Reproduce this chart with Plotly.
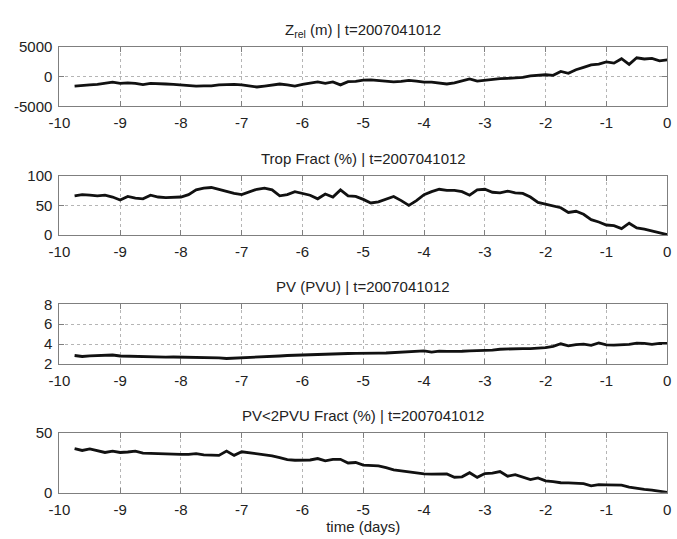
import plotly.graph_objects as go

# time axis (days), 3-hourly
time_days = [-9.75 + 0.125 * k for k in range(79)]

z_rel = [-1600, -1550, -1400, -1300, -1150, -950, -1150, -1050, -1150, -1350,
         -1150, -1250, -1250, -1300, -1400, -1500, -1600, -1550, -1550, -1400,
         -1350, -1300, -1400, -1550, -1750, -1600, -1450, -1250, -1400, -1600,
         -1300, -1050, -900, -1150, -900, -1400, -850, -800, -600, -550,
         -700, -750, -900, -800, -650, -750, -950, -950, -1050, -1250,
         -1050, -750, -400, -750, -600, -450, -350, -300, -250, -150,
         100, 150, 300, 200, 850, 550, 1150, 1550, 1950, 2100,
         2450, 2250, 3000, 2050, 3150, 2950, 3050, 2650, 2800]

trop_fract = [66, 68, 67, 66, 67, 64, 59, 65, 62, 61,
              67, 64, 63, 63, 64, 68, 76, 79, 80, 77,
              73, 70, 68, 72, 77, 79, 76, 66, 68, 73,
              70, 67, 61, 69, 64, 76, 66, 65, 60, 54,
              56, 60, 65, 58, 50, 58, 68, 73, 77, 75,
              75, 73, 67, 76, 77, 72, 71, 74, 71, 70,
              64, 55, 52, 48, 46, 38, 40, 35, 26, 22,
              17, 16, 11, 20, 12, 10, 7, 5, 1]

pv = [2.85, 2.75, 2.82, 2.86, 2.88, 2.90, 2.80, 2.78, 2.72, 2.70,
      2.72, 2.70, 2.68, 2.70, 2.68, 2.66, 2.68, 2.64, 2.67, 2.62,
      2.55, 2.58, 2.60, 2.62, 2.66, 2.70, 2.74, 2.80, 2.85, 2.88,
      2.90, 2.92, 2.96, 3.00, 3.06, 3.08, 3.05, 3.07, 3.05, 3.08,
      3.08, 3.10, 3.14, 3.16, 3.20, 3.25, 3.32, 3.20, 3.28, 3.26,
      3.25, 3.28, 3.31, 3.33, 3.36, 3.40, 3.48, 3.52, 3.54, 3.55,
      3.54, 3.58, 3.64, 3.78, 4.03, 3.82, 3.95, 4.00, 3.88, 4.12,
      3.92, 3.90, 3.92, 3.98, 4.10, 4.08, 3.98, 4.08, 4.06]

pv2_fract = [37, 35.5, 36.8, 35.5, 33.8, 35, 33.8, 34.2, 35, 33.3,
             33, 33, 32.8, 32.5, 32.2, 32.2, 32.8, 31.8, 31.4, 31.4,
             35, 31.4, 34.4, 33.6, 32.8, 31.8, 31, 29.5, 27.8, 27.3,
             27.3, 27.5, 28.7, 26.8, 28.1, 28.1, 25, 25.4, 23.2, 23,
             22.5, 21, 19.2, 18.3, 17.3, 16.4, 15.8, 15.6, 15.7, 15.8,
             13, 13.4, 16.8, 12.9, 16.1, 16.4, 17.8, 13.9, 15.2, 13.1,
             11, 12.5, 10, 9.4, 8.4, 8.2, 8.2, 7.6, 5.8, 6.8,
             6.6, 6.4, 6.4, 4.8, 3.6, 2.9, 2.2, 1.5, 0.2]

titles = ["Z<sub>rel</sub> (m) | t=2007041012",
          "Trop Fract (%) | t=2007041012",
          "PV (PVU) | t=2007041012",
          "PV<2PVU Fract (%) | t=2007041012"]
series = [z_rel, trop_fract, pv, pv2_fract]
y_ranges = [[-5000, 5000], [0, 100], [2, 8], [0, 50]]
y_ticks = [[-5000, 0, 5000], [0, 50, 100], [2, 4, 6, 8], [0, 50]]
x_ticks = list(range(-10, 1))

W, H = 677, 539
x_dom = [49.5 / W, 671 / W]
tops_px = [39, 172, 305, 438]
heights_px = 61.5

fig = go.Figure()
font_family = "Liberation Sans, Arial, sans-serif"
axis_color = "#7f7f7f"
grid_color = "#b5b5b5"

for i, (ys, ttl, yr, yt) in enumerate(zip(series, titles, y_ranges, y_ticks)):
    n = i + 1
    top = tops_px[i]
    dom = [1 - (top + heights_px) / H, 1 - top / H]
    xa = "x" if n == 1 else f"x{n}"
    ya = "y" if n == 1 else f"y{n}"
    fig.add_trace(go.Scatter(x=time_days, y=ys, mode="lines",
                             line=dict(color="#111111", width=2.8),
                             xaxis=xa, yaxis=ya, showlegend=False,
                             hoverinfo="skip"))
    common = dict(showline=True, linecolor=axis_color, linewidth=1, mirror="ticks",
                  ticks="inside", ticklen=5, tickcolor=axis_color, tickwidth=1,
                  showgrid=True, gridcolor=grid_color, griddash="dot", gridwidth=1,
                  zeroline=False,
                  tickfont=dict(family=font_family, size=15, color="#222222"))
    fig.update_layout(**{
        ("xaxis" if n == 1 else f"xaxis{n}"): dict(
            domain=x_dom, range=[-10, 0], tickmode="array", tickvals=x_ticks,
            ticktext=[str(v) for v in x_ticks],
            anchor=ya, ticklabelstandoff=3, **common),
        ("yaxis" if n == 1 else f"yaxis{n}"): dict(
            domain=dom, range=yr, tickmode="array", tickvals=yt,
            ticktext=[str(v) for v in yt],
            anchor=xa, ticklabelstandoff=3, **common),
    })
    fig.add_annotation(text=ttl, xref="paper", yref="paper",
                       x=(x_dom[0] + x_dom[1]) / 2, y=dom[1], xanchor="center",
                       yanchor="bottom", yshift=7 if n > 1 else 5, showarrow=False,
                       font=dict(family=font_family, size=15, color="#222222"))

fig.update_layout(
    xaxis4_title=dict(text="time (days)", standoff=2,
                      font=dict(family=font_family, size=15, color="#222222")),
    width=W, height=H, margin=dict(l=0, r=0, t=0, b=0),
    paper_bgcolor="white", plot_bgcolor="white",
)

fig.write_html("out.html")
